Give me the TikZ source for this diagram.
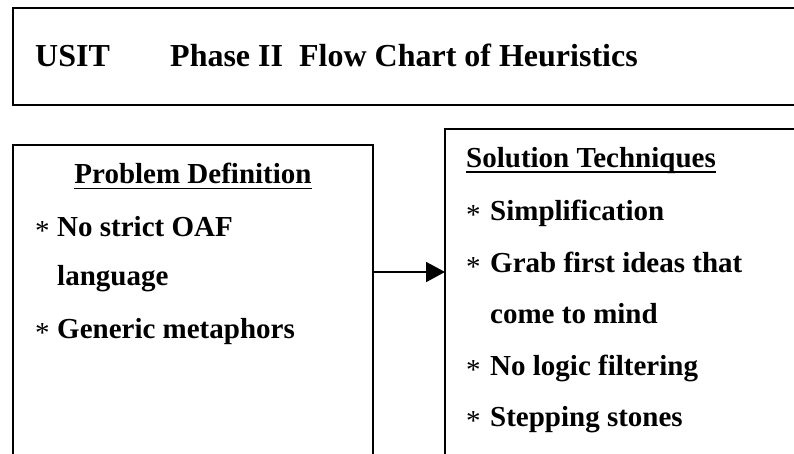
\documentclass[tikz,border=0pt]{standalone}
\usepackage{fontspec}
\setmainfont{Liberation Serif}
\usetikzlibrary{arrows.meta}
\begin{document}
\begin{tikzpicture}[x=1pt,y=-1pt,
  txt/.style={anchor=base west, inner sep=0pt, font=\fontsize{29}{29}\selectfont\bfseries},
  ttl/.style={anchor=base west, inner sep=0pt, font=\fontsize{32}{32}\selectfont\bfseries},
  bul/.style={anchor=base west, inner sep=0pt, font=\fontsize{29}{29}\selectfont},
  box/.style={draw, line width=2pt, rectangle, inner sep=0pt, outer sep=0pt, anchor=north west},
  uline/.style={line width=1.6pt},
  conn/.style={line width=1.8pt, -{Triangle[length=19pt,width=20pt]}}]
\useasboundingbox (0,0) rectangle (794,453);
\clip (0,0) rectangle (794,453);
% boxes
\node[box, minimum width=900pt, minimum height=97pt] (tbox) at (13,8) {};
\node[box, minimum width=360pt, minimum height=400pt] (lbox) at (13,145) {};
\node[box, minimum width=500pt, minimum height=400pt] (rbox) at (445,129) {};
% title
\node[ttl] (t1) at (35,66) {USIT};
\node[ttl] (t2) at (170,66) {Phase II\ \ Flow Chart of Heuristics};
% left box
\node[txt, anchor=base] (pd) at (193,183) {Problem Definition};
\draw[uline] ([yshift=-5.5pt]pd.base west) -- ([yshift=-5.5pt]pd.base east);
\node[bul] (lb1) at (35,240) {*};
\node[txt] (l1) at (57,236) {No strict OAF};
\node[txt] (l2) at (57,285) {language};
\node[bul] (lb2) at (35,342) {*};
\node[txt] (l3) at (57,338) {Generic metaphors};
% right box
\node[txt] (st) at (466,167) {Solution Techniques};
\draw[uline] ([yshift=-5pt]st.base west) -- ([yshift=-5pt]st.base east);
\node[bul] (rb1) at (466,224) {*};
\node[txt] (r1) at (490,220) {Simplification};
\node[bul] (rb2) at (466,276) {*};
\node[txt] (r2) at (490,272) {Grab first ideas that};
\node[txt] (r3) at (490,323) {come to mind};
\node[bul] (rb3) at (466,379) {*};
\node[txt] (r4) at (490,375) {No logic filtering};
\node[bul] (rb4) at (466,430) {*};
\node[txt] (r5) at (490,426) {Stepping stones};
% connector
\coordinate (arr) at (0,272);
\draw[conn] (lbox.east |- arr) -- (rbox.west |- arr);
\end{tikzpicture}
\end{document}
